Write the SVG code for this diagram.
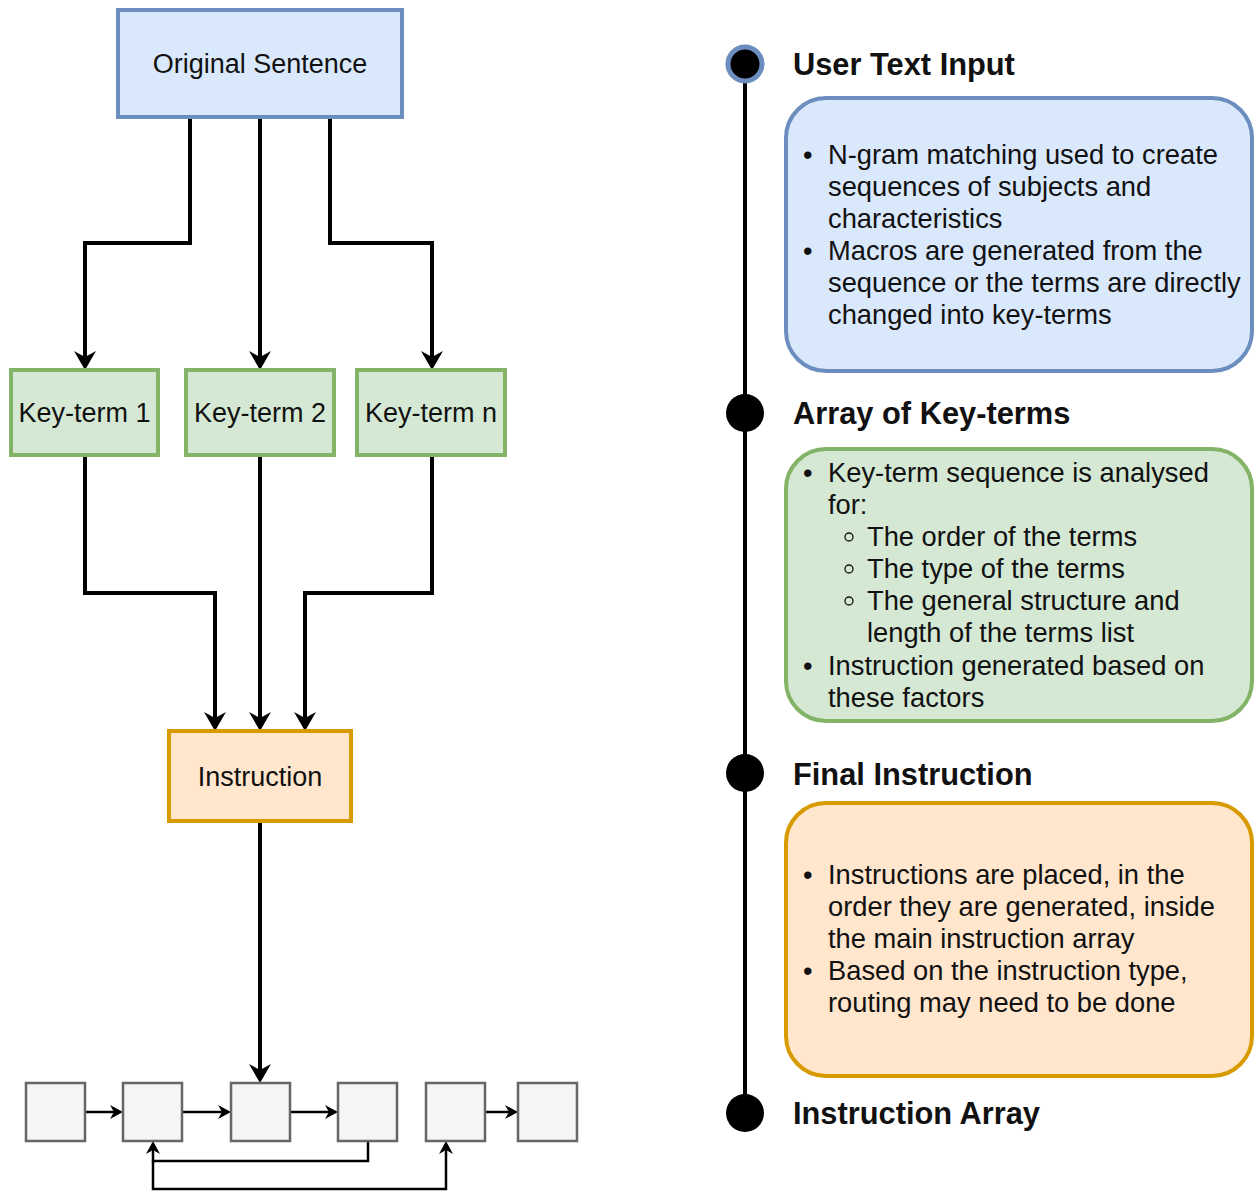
<svg xmlns="http://www.w3.org/2000/svg" width="1255" height="1191" viewBox="0 0 1255 1191">
  <defs>
    <style>
      text { font-family: "Liberation Sans", Arial, sans-serif; fill: #111111; }
      .lbl { font-size: 27px; text-anchor: middle; }
      .body { font-size: 27.3px; }
      .title { font-size: 30.8px; font-weight: bold; }
      .blue { fill: #dae8fc; stroke: #6c8ebf; }
      .green { fill: #d5e8d4; stroke: #82b366; }
      .orange { fill: #ffe6cc; stroke: #d79b00; }
      .cell { fill: #f5f5f5; stroke: #666666; stroke-width: 2.5; }
      .edge { fill: none; stroke: #000000; stroke-width: 4; marker-end: url(#arrow); }
      .link { fill: none; stroke: #000000; stroke-width: 2.5; marker-end: url(#arrowSmall); }
      .spine { stroke: #000000; stroke-width: 4; }
    </style>
    <marker id="arrow" markerUnits="userSpaceOnUse" viewBox="-22 -13 24 26" refX="-13" refY="0" markerWidth="24" markerHeight="26" orient="auto">
      <path d="M0,0 L-19,-11 L-13,0 L-19,11 Z" fill="#000000"/>
    </marker>
    <marker id="arrowSmall" markerUnits="userSpaceOnUse" viewBox="-15 -8 16 16" refX="-9" refY="0" markerWidth="16" markerHeight="16" orient="auto">
      <path d="M0,0 L-13,-7 L-9,0 L-13,7 Z" fill="#000000"/>
    </marker>
  </defs>

  <!-- connectors -->
  <g id="connectors">
    <path class="edge" d="M190,118 V243 H85 V357"/>
    <path class="edge" d="M260,118 V357"/>
    <path class="edge" d="M330,118 V243 H432 V357"/>
    <path class="edge" d="M85,455 V593 H215 V718"/>
    <path class="edge" d="M260,455 V718"/>
    <path class="edge" d="M432,455 V593 H305 V718"/>
    <path class="edge" d="M260,821 V1070"/>
    <path class="link" d="M85,1112 H114"/>
    <path class="link" d="M182,1112 H222"/>
    <path class="link" d="M290,1112 H329"/>
    <path class="link" d="M485,1112 H509"/>
    <path class="link" d="M368,1141 V1161 H153 V1150"/>
    <path class="link" d="M153,1161 V1189 H446 V1150"/>
  </g>

  <!-- flow nodes -->
  <g id="original-sentence">
    <rect class="blue" x="118" y="10" width="284" height="107" stroke-width="4"/>
    <text class="lbl" x="260" y="73">Original Sentence</text>
  </g>
  <g id="key-term-1">
    <rect class="green" x="11" y="370" width="147" height="85" stroke-width="4"/>
    <text class="lbl" x="84.5" y="422">Key-term 1</text>
  </g>
  <g id="key-term-2">
    <rect class="green" x="186" y="370" width="148" height="85" stroke-width="4"/>
    <text class="lbl" x="260" y="422">Key-term 2</text>
  </g>
  <g id="key-term-n">
    <rect class="green" x="357" y="370" width="148" height="85" stroke-width="4"/>
    <text class="lbl" x="431" y="422">Key-term n</text>
  </g>
  <g id="instruction">
    <rect class="orange" x="169" y="731" width="182" height="90" stroke-width="4"/>
    <text class="lbl" x="260" y="786">Instruction</text>
  </g>

  <!-- instruction array cells -->
  <g id="array-cell-1"><rect class="cell" x="26" y="1083" width="59" height="58"/></g>
  <g id="array-cell-2"><rect class="cell" x="123" y="1083" width="59" height="58"/></g>
  <g id="array-cell-3"><rect class="cell" x="231" y="1083" width="59" height="58"/></g>
  <g id="array-cell-4"><rect class="cell" x="338" y="1083" width="59" height="58"/></g>
  <g id="array-cell-5"><rect class="cell" x="426" y="1083" width="59" height="58"/></g>
  <g id="array-cell-6"><rect class="cell" x="518" y="1083" width="59" height="58"/></g>

  <!-- timeline -->
  <g id="timeline">
    <line class="spine" x1="745" y1="64" x2="745" y2="1113"/>
  </g>

  <g id="step-user-text-input">
    <circle cx="745" cy="64" r="17" fill="#000000" stroke="#6c8ebf" stroke-width="5"/>
    <text class="title" x="793" y="75">User Text Input</text>
    <rect class="blue" x="786" y="98" width="466" height="273" rx="40" ry="40" stroke-width="4"/>
    <text class="body" x="803" y="164">•</text>
    <text class="body" x="828" y="164">N-gram matching used to create</text>
    <text class="body" x="828" y="196">sequences of subjects and</text>
    <text class="body" x="828" y="228">characteristics</text>
    <text class="body" x="803" y="260">•</text>
    <text class="body" x="828" y="260">Macros are generated from the</text>
    <text class="body" x="828" y="292">sequence or the terms are directly</text>
    <text class="body" x="828" y="324">changed into key-terms</text>
  </g>

  <g id="step-array-of-key-terms">
    <circle cx="745" cy="413" r="19" fill="#000000"/>
    <text class="title" x="793" y="424">Array of Key-terms</text>
    <rect class="green" x="786" y="449" width="466" height="272" rx="40" ry="40" stroke-width="4"/>
    <text class="body" x="803" y="482">•</text>
    <text class="body" x="828" y="482">Key-term sequence is analysed</text>
    <text class="body" x="828" y="514">for:</text>
    <circle cx="849" cy="537" r="4" fill="none" stroke="#111111" stroke-width="1.3"/>
    <text class="body" x="867" y="546">The order of the terms</text>
    <circle cx="849" cy="569" r="4" fill="none" stroke="#111111" stroke-width="1.3"/>
    <text class="body" x="867" y="578">The type of the terms</text>
    <circle cx="849" cy="601" r="4" fill="none" stroke="#111111" stroke-width="1.3"/>
    <text class="body" x="867" y="610">The general structure and</text>
    <text class="body" x="867" y="642">length of the terms list</text>
    <text class="body" x="803" y="675">•</text>
    <text class="body" x="828" y="675">Instruction generated based on</text>
    <text class="body" x="828" y="707">these factors</text>
  </g>

  <g id="step-final-instruction">
    <circle cx="745" cy="773" r="19" fill="#000000"/>
    <text class="title" x="793" y="785">Final Instruction</text>
    <rect class="orange" x="786" y="803" width="466" height="273" rx="40" ry="40" stroke-width="4"/>
    <text class="body" x="803" y="884">•</text>
    <text class="body" x="828" y="884">Instructions are placed, in the</text>
    <text class="body" x="828" y="916">order they are generated, inside</text>
    <text class="body" x="828" y="948">the main instruction array</text>
    <text class="body" x="803" y="980">•</text>
    <text class="body" x="828" y="980">Based on the instruction type,</text>
    <text class="body" x="828" y="1012">routing may need to be done</text>
  </g>

  <g id="step-instruction-array">
    <circle cx="745" cy="1113" r="19" fill="#000000"/>
    <text class="title" x="793" y="1124">Instruction Array</text>
  </g>
</svg>
